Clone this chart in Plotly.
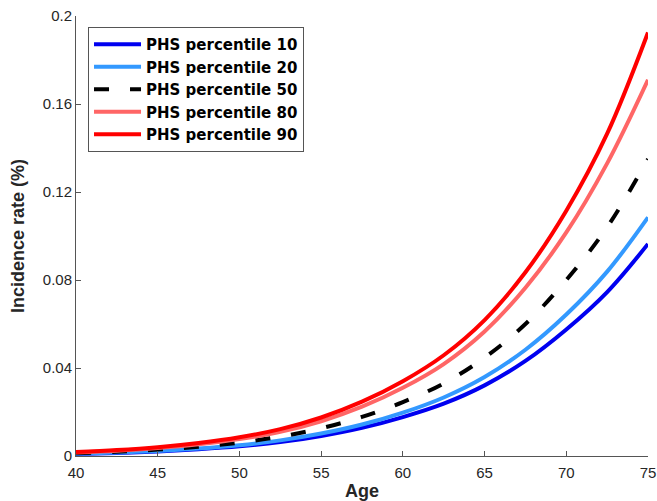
import plotly.graph_objects as go

ages = [40, 42.5, 45, 47.5, 50, 52.5, 55, 57.5, 60, 62.5, 65, 67.5, 70, 72.5, 75]
p10 = [0.0009, 0.0014, 0.0021, 0.0031, 0.0044, 0.0063, 0.0091, 0.0128, 0.0177, 0.0238, 0.0321, 0.0432, 0.0575, 0.0745, 0.0964]
p20 = [0.0010, 0.0016, 0.0023, 0.0034, 0.0049, 0.0071, 0.0102, 0.0143, 0.0197, 0.0266, 0.0359, 0.0483, 0.0643, 0.0838, 0.1085]
p50 = [0.0012, 0.0019, 0.0029, 0.0042, 0.0061, 0.0088, 0.0126, 0.0178, 0.0245, 0.0330, 0.0447, 0.0600, 0.0800, 0.1040, 0.1350]
p80 = [0.0016, 0.0024, 0.0036, 0.0053, 0.0077, 0.0110, 0.0158, 0.0224, 0.0310, 0.0418, 0.0566, 0.0765, 0.1016, 0.1330, 0.1710]
p90 = [0.0018, 0.0027, 0.0040, 0.0059, 0.0085, 0.0122, 0.0175, 0.0247, 0.0340, 0.0458, 0.0618, 0.0835, 0.1115, 0.1465, 0.1925]

names = ["PHS percentile 10", "PHS percentile 20", "PHS percentile 50",
         "PHS percentile 80", "PHS percentile 90"]
colors = ["#0000F0", "#3399FF", "#000000", "#FF6666", "#FF0000"]
dashes = ["solid", "solid", "15px,21px", "solid", "solid"]
series = [p10, p20, p50, p80, p90]

ytick_vals = [0, 0.04, 0.08, 0.12, 0.16, 0.2]
ytick_text = ["0", "0.04", "0.08", "0.12", "0.16", "0.2"]
xtick_vals = [40, 45, 50, 55, 60, 65, 70, 75]

fig = go.Figure()
for name, ys, c, d in zip(names, series, colors, dashes):
    fig.add_trace(go.Scatter(x=ages, y=ys, mode="lines", name=name,
                             line=dict(color=c, width=4, dash=d, shape="spline", smoothing=1.0)))

font_family = "Liberation Sans, Arial, sans-serif"
fig.update_layout(
    width=657, height=501,
    margin=dict(l=76, r=9, t=16, b=45, autoexpand=False),
    paper_bgcolor="white", plot_bgcolor="white",
    font=dict(family=font_family, color="#262626"),
    showlegend=True,
    legend=dict(x=0.021, y=0.975, xanchor="left", yanchor="top",
                bgcolor="white", bordercolor="#555555", borderwidth=1,
                font=dict(size=15, color="#000000", family="DejaVu Sans, sans-serif", weight="bold"),
                tracegroupgap=0, itemwidth=47),
    xaxis=dict(range=[40, 75], tickvals=xtick_vals, ticks="inside", ticklen=5,
               showline=True, linecolor="#555555", linewidth=1, tickcolor="#555555",
               showgrid=False, zeroline=False, tickfont=dict(size=15, color="#262626"),
               ticklabelstandoff=3, automargin=False, ticklabeloverflow="allow",
               title=dict(text="<b>Age</b>", font=dict(size=18, color="#262626"), standoff=4)),
    yaxis=dict(range=[0, 0.2], tickvals=ytick_vals, ticktext=ytick_text, ticks="inside", ticklen=5,
               showline=True, linecolor="#555555", linewidth=1, tickcolor="#555555",
               showgrid=False, zeroline=False, tickfont=dict(size=15, color="#262626"),
               automargin=False, ticklabeloverflow="allow",
               title=dict(text="<b>Incidence rate (%)</b>", font=dict(size=18, color="#262626"), standoff=13)),
)
fig.write_html("out.html", config={"displayModeBar": False},
               post_script="document.body.style.margin='0px';document.body.style.overflow='hidden';")
